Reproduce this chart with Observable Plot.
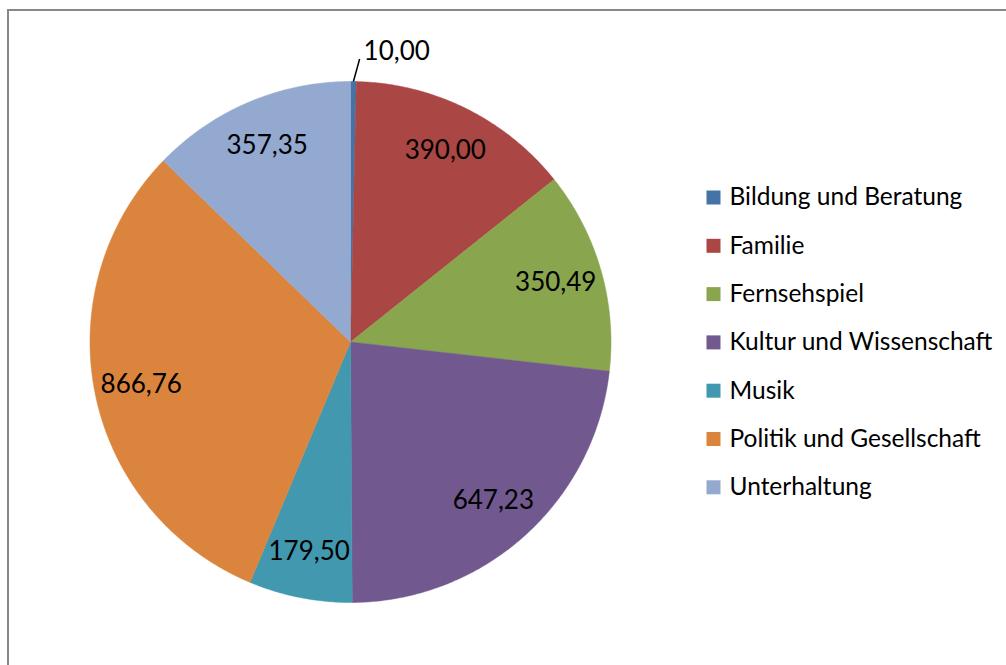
<!DOCTYPE html>
<html>
<head>
<meta charset="utf-8">
<script src="https://cdn.jsdelivr.net/npm/d3@7"></script>
<script src="https://cdn.jsdelivr.net/npm/@observablehq/plot@0.6"></script>
<style>
  html, body { margin: 0; padding: 0; background: #fff; }
  #wrap { position: relative; width: 1006px; height: 665px; overflow: hidden; }
  #border { position: absolute; left: 7px; top: 9px; width: 1100px; height: 700px;
            border-left: 2px solid #888; border-top: 2px solid #888; box-sizing: border-box; }
  #chart { position: absolute; left: 0; top: 0; }
</style>
</head>
<body>
<div id="wrap"><div id="border"></div><div id="chart"></div></div>
<script>
const categories = ["Bildung und Beratung", "Familie", "Fernsehspiel", "Kultur und Wissenschaft", "Musik", "Politik und Gesellschaft", "Unterhaltung"];
const values = [10.00, 390.00, 350.49, 647.23, 179.50, 866.76, 357.35];
const colors = ["#4572A7", "#AA4643", "#89A54E", "#71588F", "#4198AF", "#DB843D", "#93A9CF"];

const FONT = "Lato, 'Open Sans', sans-serif";
const FS = 24.5;   // legend
const LFS = 26;    // data labels

const total = d3.sum(values);
let cum = 0;
const slices = categories.map((c, i) => {
  const a0 = cum / total * 2 * Math.PI;
  cum += values[i];
  const a1 = cum / total * 2 * Math.PI;
  return {cat: c, value: values[i], a0, a1, mid: (a0 + a1) / 2};
});
const polar = (a, r) => ({x: r * Math.sin(a), y: r * Math.cos(a)});

const pts = [];
for (const s of slices) {
  pts.push({cat: s.cat, x: 0, y: 0});
  const n = Math.max(2, Math.ceil((s.a1 - s.a0) / (Math.PI / 360)));
  for (let k = 0; k <= n; k++) {
    const a = s.a0 + (s.a1 - s.a0) * k / n;
    pts.push({cat: s.cat, ...polar(a, 1)});
  }
  pts.push({cat: s.cat, x: 0, y: 0});
}

const fmt = v => v.toFixed(2).replace(".", ",");
const inside = slices.filter(s => s.value >= 50).map(s => ({...polar(s.mid, 0.82), label: fmt(s.value)}));
const small = slices.filter(s => s.value < 50);
const leaders = small.map(s => {
  const p0 = polar(s.mid, 1.0), p1 = polar(s.mid + 0.021, 1.087);
  return {x1: p0.x, y1: p0.y, x2: p1.x, y2: p1.y, label: fmt(s.value)};
});

const CX = 350, CY = 341.5, R = 260.5;
const marks = [
  Plot.line(pts, {x: "x", y: "y", z: "cat", fill: "cat", stroke: "cat", strokeWidth: 0.5, curve: "linear"}),
  Plot.text(inside, {x: "x", y: "y", text: "label", fill: "#000", fontSize: LFS}),
  Plot.link(leaders, {x1: "x1", y1: "y1", x2: "x2", y2: "y2", stroke: "#000", strokeWidth: 1.5}),
  Plot.text(leaders, {x: "x2", y: "y2", text: "label", textAnchor: "start", dx: 4, dy: -7, fill: "#000", fontSize: LFS})
];
categories.forEach((c, i) => {
  marks.push(Plot.dot([c], {frameAnchor: "top-left", dx: 713, dy: 197 + i * 48.3, symbol: "square", r: 7.9, fill: colors[i], stroke: null}));
  marks.push(Plot.text([c], {frameAnchor: "top-left", dx: 729, dy: 197 + i * 48.3, text: d => d, textAnchor: "start", lineAnchor: "middle", fill: "#000", fontSize: FS}));
});

const plot = Plot.plot({
  width: 1006, height: 665,
  margin: 0,
  style: {fontFamily: FONT, background: "transparent"},
  x: {domain: [-1, 1], range: [CX - R, CX + R], axis: null},
  y: {domain: [-1, 1], range: [CY + R, CY - R], axis: null},
  color: {domain: categories, range: colors},
  marks
});
document.getElementById("chart").appendChild(plot);
</script>
</body>
</html>
